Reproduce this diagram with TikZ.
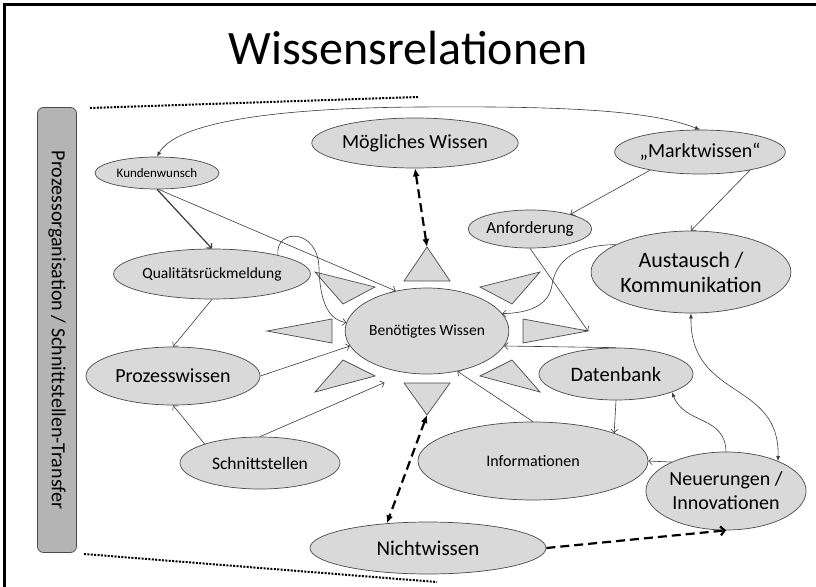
\documentclass[tikz,border=0pt]{standalone}
\usepackage{fontspec}
\setmainfont{Carlito}
\usetikzlibrary{
	arrows.meta,
	shapes.geometric,
	calc
}
\definecolor{ovalfill}{HTML}{D9D9D9}
\definecolor{ovalline}{HTML}{4A4A4A}
\definecolor{sidefill}{HTML}{B4B4B4}
\definecolor{linegray}{HTML}{3A3A3A}

\begin{document}
\begin{tikzpicture}[
		x=1pt, y=-1pt,
		oval/.style={draw=ovalline, fill=ovalfill, ellipse, inner sep=0pt, align=center, line width=0.7pt},
		tri/.style={draw=ovalline, fill=ovalfill, line width=0.7pt, line join=miter},
		sidebox/.style={draw=ovalline, fill=sidefill, rounded corners=6pt, inner sep=0pt, line width=0.7pt},
		arrow/.style={-{Straight Barb[length=3.5pt,width=7pt]}, draw=linegray, line width=0.6pt},
		filledarrow/.style={-{Latex[length=5pt,width=4pt]}, draw=linegray, line width=0.6pt},
		bothways/.style={{Latex[length=5pt,width=4pt]}-{Latex[length=5pt,width=4pt]}, draw=linegray, line width=0.6pt},
		dashy/.style={line width=2.2pt, dash pattern=on 9pt off 5pt},
		dotline/.style={line width=2pt, dash pattern=on 2pt off 1.4pt}
		]
		\useasboundingbox (0,0) rectangle (816,586);
		
		% frame and title
		\draw[line width=3pt] (4,600) -- (4,5) -- (830,5);
		\node[anchor=base, font=\fontsize{48}{50}\selectfont] (title) at (408,65) {Wissensrelationen};
		
		% side bar
		\node[sidebox, minimum width=445, minimum height=39, rotate=-90, font=\fontsize{20}{22}\selectfont] (side) at (57,330) {Prozessorganisation / Schnittstellen-Transfer};
		\draw[dotline] (90,108) -- (418,97);
		\draw[dotline] (84,554) -- (437,582);
		
		% knowledge nodes
		\node[oval, minimum width=124, minimum height=32, font=\fontsize{13}{15}\selectfont] (kunden) at (157,173) {Kundenwunsch};
		\node[oval, minimum width=192, minimum height=50, font=\fontsize{20}{22}\selectfont] (moeglich) at (415,143) {Mögliches Wissen};
		\node[oval, minimum width=142, minimum height=44, font=\fontsize{20}{22}\selectfont] (markt) at (700,152) {„Marktwissen“};
		\node[oval, minimum width=116, minimum height=38, font=\fontsize{17}{19}\selectfont] (anf) at (530,229) {Anforderung};
		\node[oval, minimum width=184, minimum height=82, font=\fontsize{22}{25}\selectfont] (austausch) at (691,272) {Austausch /\\Kommunikation};
		\node[oval, minimum width=168, minimum height=50, font=\fontsize{15.5}{18}\selectfont] (qual) at (212,274) {Qualitätsrückmeldung};
		\node[oval, minimum width=162, minimum height=86, font=\fontsize{15.5}{18}\selectfont] (benoetigt) at (427,331) {Benötigtes Wissen};
		\node[oval, minimum width=174, minimum height=58, font=\fontsize{20}{22}\selectfont] (prozess) at (173,376) {Prozesswissen};
		\node[oval, minimum width=154, minimum height=52, font=\fontsize{20.5}{22}\selectfont] (datenbank) at (616,374) {Datenbank};
		\node[oval, minimum width=160, minimum height=52, font=\fontsize{17.5}{20}\selectfont] (schnitt) at (260,463) {Schnittstellen};
		\node[oval, minimum width=230, minimum height=78, font=\fontsize{16}{18}\selectfont] (info) at (533,461) {Informationen};
		\node[oval, minimum width=156, minimum height=78, font=\fontsize{20}{24}\selectfont] (neu) at (726,491) {Neuerungen /\\Innovationen};
		\node[oval, minimum width=236, minimum height=52, font=\fontsize{21}{23}\selectfont] (nicht) at (428,548) {Nichtwissen};
		
		% rays round the centre
		\draw[tri] (427,247) coordinate (tritop) -- (450,281) -- (404,281) -- cycle;
		\draw[tri] (427,415) coordinate (tribot) -- (450,383) -- (404,383) -- cycle;
		\draw[tri] (267,331) -- (332,319) -- (332,343) -- cycle;
		\draw[tri] (588,331) coordinate (trieast) -- (523,319) -- (523,343) -- cycle;
		\draw[tri] (315,272) -- (375,287) -- (343,304) -- cycle;
		\draw[tri] (540,272) -- (480,287) -- (512,304) -- cycle;
		\draw[tri] (315,392) -- (375,376) -- (343,360) -- cycle;
		\draw[tri] (540,392) -- (480,376) -- (512,360) -- cycle;
		
		% thin arrows
		\draw[bothways] (kunden.north) .. controls (175,125) and (260,108) .. (420,107) .. controls (560,106) and (650,110) .. (markt.north);
		\draw[arrow, line width=1.2pt] (kunden.south) -- (qual.north);
		\draw[arrow] (kunden.-85) -- (benoetigt.128);
		\draw[arrow] (qual.16) .. controls (275,228) and (318,228) .. (319,268) .. controls (320,305) and (330,320) .. (benoetigt.174);
		\draw[arrow] (qual.south) -- (prozess.north);
		\draw[arrow] (prozess.east) -- (benoetigt.191);
		\draw[arrow] (schnitt.161) -- (prozess.south);
		\draw[arrow, shorten >=24pt] (schnitt.north) -- (benoetigt.244);
		\draw[arrow] (info.north) -- (benoetigt.307);
		\draw[arrow] (datenbank.north) -- (benoetigt.349);
		\draw[arrow] (datenbank.south) -- (info.19);
		\draw[arrow] (neu.152) -- (info.east);
		\draw[filledarrow] (neu.north) .. controls (725,415) and (685,425) .. (datenbank.342);
		\draw[bothways] (austausch.south) .. controls (690,400) and (780,380) .. (neu.30);
		\draw[arrow] (anf.south) -- (trieast);
		\draw[arrow] (austausch.160) .. controls (570,245) and (555,265) .. (552,285) .. controls (549,305) and (530,313) .. (benoetigt.13);
		\draw[arrow] (markt.200) -- (anf.20);
		\draw[arrow] (markt.340) -- (austausch.north);
		
		% dashed relations
		\draw[dashy, {Latex[length=8pt,width=7pt]}-{Latex[length=8pt,width=7pt]}] (moeglich.south) -- (tritop);
		\draw[dashy, {Latex[length=8pt,width=7pt]}-{Latex[length=8pt,width=7pt]}] (tribot) -- (nicht.149);
		\draw[dashy, -{Straight Barb[length=4pt,width=9pt]}] (nicht.east) -- (neu.south);
		
	\end{tikzpicture}
\end{document}
